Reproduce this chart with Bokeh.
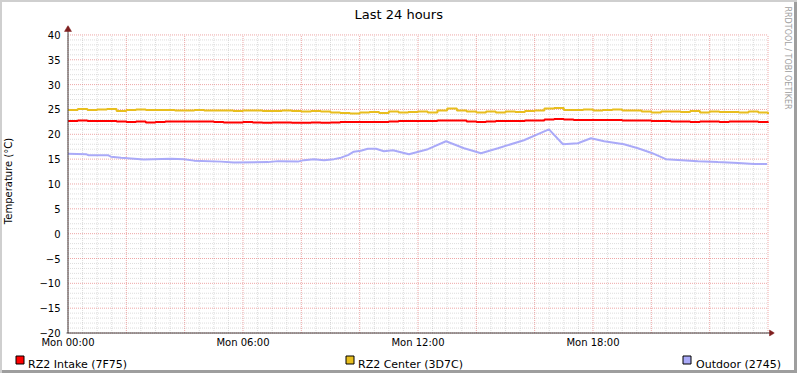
from bokeh.plotting import figure
from bokeh.layouts import column
from bokeh.models import Range1d, FixedTicker, Title
from bokeh.core.properties import value
from bokeh.embed import file_html
from bokeh.resources import INLINE

# ---------------- data ----------------
title_text = "Last 24 hours"
y_label = "Temperature (°C)"
watermark = "RRDTOOL / TOBI OETIKER"

x_tick_values = [0, 6, 12, 18]
x_tick_labels = ["Mon 00:00", "Mon 06:00", "Mon 12:00", "Mon 18:00"]
y_tick_values = [-20, -15, -10, -5, 0, 5, 10, 15, 20, 25, 30, 35, 40]

series_names = ["RZ2 Intake (7F75)", "RZ2 Center (3D7C)", "Outdoor (2745)"]
series_colors = ["#FF0000", "#E8BE1E", "#AAAAF8"]

# sample times (hours since Mon 00:00), every 20 minutes
hours_grid = [k / 3 for k in range(73)]

intake = [22.7, 22.8, 22.7, 22.7, 22.7, 22.6, 22.5, 22.6, 22.4, 22.5,
          22.6, 22.6, 22.6, 22.6, 22.6, 22.5, 22.4, 22.4, 22.5, 22.4,
          22.3, 22.4, 22.4, 22.3, 22.3, 22.4, 22.3, 22.4, 22.5, 22.5,
          22.5, 22.5, 22.5, 22.6, 22.7, 22.7, 22.7, 22.7, 22.8, 22.8,
          22.8, 22.6, 22.5, 22.6, 22.7, 22.7, 22.7, 22.8, 22.8, 23.0,
          23.1, 23.0, 22.9, 22.9, 22.9, 22.9, 22.9, 22.8, 22.8, 22.8,
          22.7, 22.7, 22.6, 22.6, 22.5, 22.6, 22.6, 22.5, 22.6, 22.6,
          22.6, 22.5, 22.3]

center = [24.9, 25.1, 24.9, 25.0, 25.1, 24.7, 24.9, 25.0, 24.9, 24.9,
          24.9, 24.8, 24.8, 24.9, 24.8, 24.8, 24.8, 24.7, 24.8, 24.8,
          24.7, 24.7, 24.8, 24.7, 24.6, 24.7, 24.6, 24.4, 24.3, 24.2,
          24.4, 24.5, 24.3, 24.6, 24.4, 24.5, 24.6, 24.4, 24.8, 25.2,
          24.8, 24.6, 24.4, 24.6, 24.4, 24.6, 24.5, 24.7, 24.8, 25.2,
          25.3, 24.9, 24.9, 25.0, 24.8, 24.9, 25.0, 24.8, 24.8, 24.6,
          24.4, 24.6, 24.6, 24.5, 24.7, 24.4, 24.6, 24.5, 24.5, 24.4,
          24.6, 24.4, 24.1]

outdoor_hours = [0.0, 0.62, 0.69, 1.37, 1.47, 1.82, 2.6, 3.53, 3.98, 4.32,
                 5.25, 5.69, 6.86, 7.2, 7.88, 8.09, 8.43, 8.78, 9.12, 9.36,
                 9.6, 9.8, 10.04, 10.28, 10.56, 10.83, 11.14, 11.69, 12.34,
                 12.96, 13.58, 14.16, 14.74, 15.63, 16.49, 16.97, 17.48,
                 17.93, 18.38, 19.06, 19.54, 19.99, 20.5, 21.6, 22.28,
                 22.97, 23.52, 23.97]
outdoor = [16.1, 16.0, 15.8, 15.8, 15.5, 15.3, 14.95, 15.1, 15.0, 14.7,
           14.5, 14.3, 14.4, 14.6, 14.5, 14.8, 15.0, 14.8, 15.0, 15.3,
           15.8, 16.5, 16.7, 17.1, 17.1, 16.6, 16.8, 16.0, 17.0,
           18.6, 17.2, 16.2, 17.2, 18.8, 21.0, 18.0, 18.2,
           19.2, 18.6, 18.0, 17.2, 16.3, 15.0, 14.6, 14.4,
           14.2, 14.0, 14.0]

x_start, x_end = 0, 24
y_start, y_end = -20, 40

# ---------------- main figure ----------------
FONT = "DejaVu Sans"
AXIS_COLOR = "#404040"
ARROW_COLOR = "#7F1F1F"

# pixel -> data conversion (700 px for 24 h, 300 px for 60 degC)
hx = (x_end - x_start) / 700
vy = (y_end - y_start) / 300

# the frame is a bit larger than the data area so the axis arrows fit in it
p = figure(width=797, height=350,
           x_range=Range1d(x_start - 4.5 * hx, x_end + 6.5 * hx),
           y_range=Range1d(y_start - 3.5 * vy, y_end + 9.5 * vy),
           output_backend="svg", toolbar_location=None,
           min_border_left=63, min_border_right=23, min_border_top=24,
           min_border_bottom=13)
p.frame_align = False
p.background_fill_color = "white"
p.border_fill_alpha = 0
p.outline_line_color = None
p.xgrid.visible = False
p.ygrid.visible = False

# title
p.title.text = title_text
p.title.align = "left"
p.title.offset = 291
p.title.standoff = 8
p.title.text_font = FONT
p.title.text_font_size = "13px"
p.title.text_font_style = "normal"
p.title.text_color = "black"

# watermark on the right side
p.add_layout(Title(text=watermark, align="left", offset=-19, standoff=0,
                   padding=dict(left=0, right=0, top=0, bottom=8),
                   text_font=FONT, text_font_size="8px", text_font_style="normal",
                   text_color="#A0A0A0"), "right")

# axes (tick labels + y label); axis lines are drawn below
p.xaxis.ticker = FixedTicker(ticks=x_tick_values)
p.xaxis.major_label_overrides = {v: s for v, s in zip(x_tick_values, x_tick_labels)}
p.yaxis.ticker = FixedTicker(ticks=y_tick_values)
for ax in (p.xaxis, p.yaxis):
    ax.axis_line_color = None
    ax.major_tick_line_color = None
    ax.minor_tick_line_color = None
    ax.major_tick_out = 0
    ax.major_tick_in = 0
    ax.minor_tick_out = 0
    ax.minor_tick_in = 0
    ax.major_label_text_font = FONT
    ax.major_label_text_font_size = "10px"
    ax.major_label_text_color = "black"
p.xaxis.major_label_standoff = 0
p.yaxis.major_label_standoff = 3
p.yaxis.axis_label = y_label
p.yaxis.axis_label_standoff = 22
p.yaxis.axis_label_text_font = FONT
p.yaxis.axis_label_text_font_size = "10px"
p.yaxis.axis_label_text_font_style = "normal"
p.yaxis.axis_label_text_color = "black"

# grid lines restricted to the data area
x_major_grid = list(range(0, 25, 2))
x_minor_grid = [h / 2 for h in range(49) if h % 4 != 0]
y_minor_grid = [v for v in range(-20, 41) if v % 5 != 0]
MINOR = dict(line_color="#8F8F8F", line_alpha=0.3, line_width=1, line_dash="1 1")
MAJOR = dict(line_color="#DE5050", line_alpha=0.5, line_width=1, line_dash="1 1")
p.multi_line([[x, x] for x in x_minor_grid], [[y_start, y_end]] * len(x_minor_grid), **MINOR)
p.multi_line([[x_start, x_end]] * len(y_minor_grid), [[y, y] for y in y_minor_grid], **MINOR)
p.multi_line([[x, x] for x in x_major_grid], [[y_start, y_end]] * len(x_major_grid), **MAJOR)
p.multi_line([[x_start, x_end]] * len(y_tick_values), [[y, y] for y in y_tick_values], **MAJOR)

# series
p.step(hours_grid, intake, mode="after", line_color=series_colors[0], line_width=2)
p.step(hours_grid, center, mode="after", line_color=series_colors[1], line_width=2)
p.line(outdoor_hours, outdoor, line_color=series_colors[2], line_width=2)

# axis lines with arrow heads
p.line([x_start, x_start], [y_start, y_end + 4 * vy], line_color=AXIS_COLOR, line_width=1)
p.line([x_start - 1.5 * hx, x_end + 2 * hx], [y_start, y_start], line_color=AXIS_COLOR, line_width=1)
p.patch([x_start - 3.5 * hx, x_start + 3.5 * hx, x_start],
        [y_end + 3.5 * vy, y_end + 3.5 * vy, y_end + 9.5 * vy],
        fill_color=ARROW_COLOR, line_color=ARROW_COLOR, line_width=0.5)
p.patch([x_end + 1.5 * hx, x_end + 1.5 * hx, x_end + 6.5 * hx],
        [y_start - 3 * vy, y_start + 3 * vy, y_start],
        fill_color=ARROW_COLOR, line_color=ARROW_COLOR, line_width=0.5)

# ---------------- legend strip (pixel coordinates) ----------------
LEG_H = 23
legend_box_left = [15.5, 345.5, 682.5]
legend_text_x = [27.5, 357.5, 695.5]
pl = figure(width=797, height=LEG_H, x_range=Range1d(0, 797), y_range=Range1d(0, LEG_H),
            output_backend="svg", toolbar_location=None, min_border=0,
            x_axis_type=None, y_axis_type=None)
pl.frame_align = False
pl.background_fill_alpha = 0
pl.border_fill_alpha = 0
pl.outline_line_color = None
pl.xgrid.visible = False
pl.ygrid.visible = False
pl.quad(left=legend_box_left, right=[x + 8 for x in legend_box_left],
        bottom=[9.5] * 3, top=[17.5] * 3,
        fill_color=series_colors, line_color="black", line_width=1)
pl.text(x=legend_text_x, y=[9] * 3, text=series_names,
        text_font=value(FONT), text_font_size="11px", text_color="black",
        text_baseline="alphabetic", text_align="left")

# page frame: light shade top/left, darker shade bottom/right
layout = column(p, pl, spacing=0,
                styles={"background-color": "white",
                        "box-shadow": "inset 2px 2px 0 0 #CFCFCF, inset -3px -3px 0 0 #9E9E9E"})
open("out.html", "w").write(file_html(layout, INLINE))
